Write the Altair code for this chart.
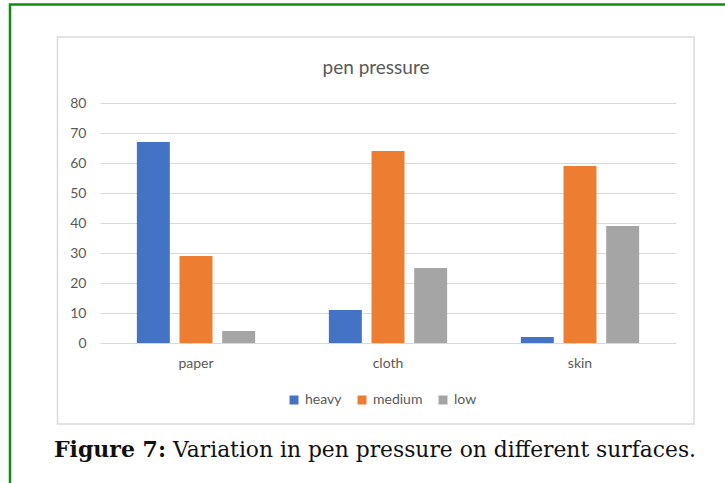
import altair as alt
import pandas as pd

# Survey counts of pen pressure on three writing surfaces
surfaces = ["paper", "cloth", "skin"]
levels = ["heavy", "medium", "low"]
heavy = [67, 11, 2]
medium = [29, 64, 59]
low = [4, 25, 39]
colors = ["#4472C4", "#ED7D31", "#A5A5A5"]

rows = []
for i, s in enumerate(surfaces):
    for lvl, series in zip(levels, [heavy, medium, low]):
        rows.append({"surface": s, "level": lvl, "value": series[i]})
df = pd.DataFrame(rows)

one = pd.DataFrame({"k": [0]})
GREY = "#595959"
SANS = "Lato"
SERIF = "DejaVu Serif"

# Outer green frame and light chart box
outer = alt.Chart(one).mark_rect(fill=None, stroke="#138a13", strokeWidth=2.5).encode(
    x=alt.value(-90), x2=alt.value(640), y=alt.value(-98.5), y2=alt.value(400)
)
box = alt.Chart(one).mark_rect(fill=None, stroke="#d9d9d9", strokeWidth=1.5).encode(
    x=alt.value(-42.5), x2=alt.value(594), y=alt.value(-66), y2=alt.value(321)
)

bars = alt.Chart(df).mark_bar().encode(
    x=alt.X("surface:N", sort=surfaces, title=None,
            scale=alt.Scale(paddingInner=0, paddingOuter=0),
            axis=alt.Axis(labelAngle=0, labelFont=SANS, labelFontSize=14,
                          labelColor=GREY, domain=False, ticks=False,
                          labelPadding=13)),
    xOffset=alt.XOffset("level:N", sort=levels,
                        scale=alt.Scale(paddingInner=0.227, paddingOuter=0.864)),
    y=alt.Y("value:Q", title=None,
            scale=alt.Scale(domain=[0, 80], nice=False),
            axis=alt.Axis(values=list(range(0, 81, 10)), labelFont=SANS,
                          labelFontSize=14, labelColor=GREY, domain=False,
                          ticks=False, labelPadding=14, gridColor="#d9d9d9",
                          gridWidth=1)),
    color=alt.Color("level:N", sort=levels, title=None,
                    scale=alt.Scale(domain=levels, range=colors),
                    legend=alt.Legend(orient="none", legendX=187, legendY=290,
                                      direction="horizontal", symbolType="square",
                                      symbolSize=81, symbolStrokeWidth=0,
                                      labelFont=SANS, labelFontSize=14,
                                      labelColor=GREY, columnPadding=13,
                                      labelOffset=4, padding=0)),
)

title = alt.Chart(one).mark_text(
    text="pen pressure", font=SANS, fontSize=19, color=GREY,
    align="center", baseline="middle"
).encode(x=alt.value(276), y=alt.value(-35))

cap_bold = alt.Chart(one).mark_text(
    text="Figure 7:", font=SERIF, fontSize=22, fontWeight="bold", color="#111111",
    align="left", baseline="middle"
).encode(x=alt.value(-46), y=alt.value(347))

cap_rest = alt.Chart(one).mark_text(
    text="Variation in pen pressure on different surfaces.", font=SERIF,
    fontSize=21.8, color="#111111", align="left", baseline="middle"
).encode(x=alt.value(73), y=alt.value(347))

chart = alt.layer(outer, box, bars, title, cap_bold, cap_rest).properties(
    width=576, height=240,
    padding={"left": 100, "top": 103, "right": 49, "bottom": 140},
    autosize=alt.AutoSizeParams(type="none"),
    background="white",
).configure_view(stroke=None)

chart.save("out.html", embed_options={"renderer": "svg", "actions": False})
